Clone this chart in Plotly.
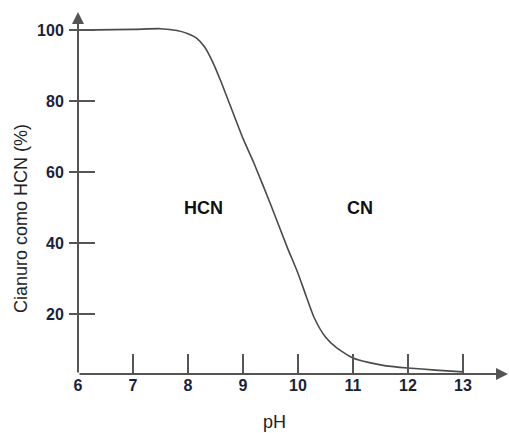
import plotly.graph_objects as go

ph = [6, 7, 7.5, 7.8, 8.0, 8.15, 8.3, 8.45, 8.6, 8.8, 9.0, 9.2, 9.5, 9.8, 10.0, 10.15, 10.3, 10.5, 10.7, 11.0, 11.3, 11.6, 12.0, 12.5, 13.0]
hcn_pct = [100, 100.2, 100.4, 99.9, 99.0, 97.8, 95.3, 91.0, 85.5, 77.5, 69.5, 62.5, 51, 39, 31.5, 25.0, 18.8, 13.5, 10.5, 7.6, 6.3, 5.4, 4.8, 4.2, 3.7]

x_ticks = [6, 7, 8, 9, 10, 11, 12, 13]
y_ticks = [20, 40, 60, 80, 100]
region_labels = ["HCN", "CN"]
region_x = [8.29, 11.13]
region_y = [50, 50]

x_range = [6, 13.82]
y_range = [3.1, 105.1]

axis_col = "#555555"
tick_font = dict(family="Liberation Sans, Arial, sans-serif", size=16, color="#1a1f3a", weight="bold")
title_font = dict(family="Liberation Sans, Arial, sans-serif", size=18, color="#222222")

fig = go.Figure()
fig.add_trace(go.Scatter(x=ph, y=hcn_pct, mode="lines", line=dict(color="#4a4a4a", width=1.6, shape="spline", smoothing=0.6),
                         hoverinfo="skip", showlegend=False))
fig.add_trace(go.Scatter(x=[6], y=[None], yaxis="y2", mode="lines", showlegend=False, hoverinfo="skip"))

for t, xx, yy in zip(region_labels, region_x, region_y):
    fig.add_annotation(x=xx, y=yy, text="<b>%s</b>" % t, showarrow=False,
                       font=dict(family="Liberation Sans, Arial, sans-serif", size=18, color="#111111"))

# axis titles
fig.add_annotation(x=9.58, y=-0.133, xref="x", yref="paper", text="pH", showarrow=False, font=title_font,
                   xanchor="center", yanchor="middle")
fig.add_annotation(x=-0.133, y=47, xref="paper", yref="y", text="Cianuro como HCN (%)", textangle=-90,
                   showarrow=False, font=title_font, xanchor="center", yanchor="middle")

# axis lines with arrowheads
fig.add_annotation(x=x_range[1], y=y_range[0], ax=x_range[0], ay=y_range[0], xref="x", yref="y", axref="x", ayref="y",
                   showarrow=True, arrowhead=2, arrowsize=1.2, arrowwidth=2, arrowcolor=axis_col, text="")
fig.add_annotation(x=x_range[0], y=y_range[1], ax=x_range[0], ay=y_range[0], xref="x", yref="y", axref="x", ayref="y",
                   showarrow=True, arrowhead=2, arrowsize=1.2, arrowwidth=2, arrowcolor=axis_col, text="")

fig.update_layout(
    width=509, height=433,
    margin=dict(l=78, r=1, t=12, b=59, autoexpand=False),
    paper_bgcolor="white", plot_bgcolor="white",
    xaxis=dict(range=x_range, tickvals=x_ticks, ticktext=[str(v) for v in x_ticks], ticks="inside", ticklen=20,
               tickwidth=1.5, tickcolor=axis_col, showgrid=False, zeroline=False, showline=False, automargin=False,
               tickfont=tick_font),
    yaxis=dict(range=y_range, tickvals=y_ticks, ticks="outside", ticklen=8, tickwidth=1.5, tickcolor=axis_col,
               showgrid=False, zeroline=False, showline=False, tickfont=tick_font, ticklabelstandoff=2, automargin=False),
    yaxis2=dict(range=y_range, overlaying="y", side="left", anchor="x", tickvals=y_ticks, ticks="inside", ticklen=17,
                tickwidth=1.5, tickcolor=axis_col, showticklabels=False, showgrid=False, zeroline=False, showline=False,
                automargin=False),
)

fig.write_html("out.html", config={"displayModeBar": False},
               post_script="document.body.style.margin='0';document.body.style.padding='0';")
